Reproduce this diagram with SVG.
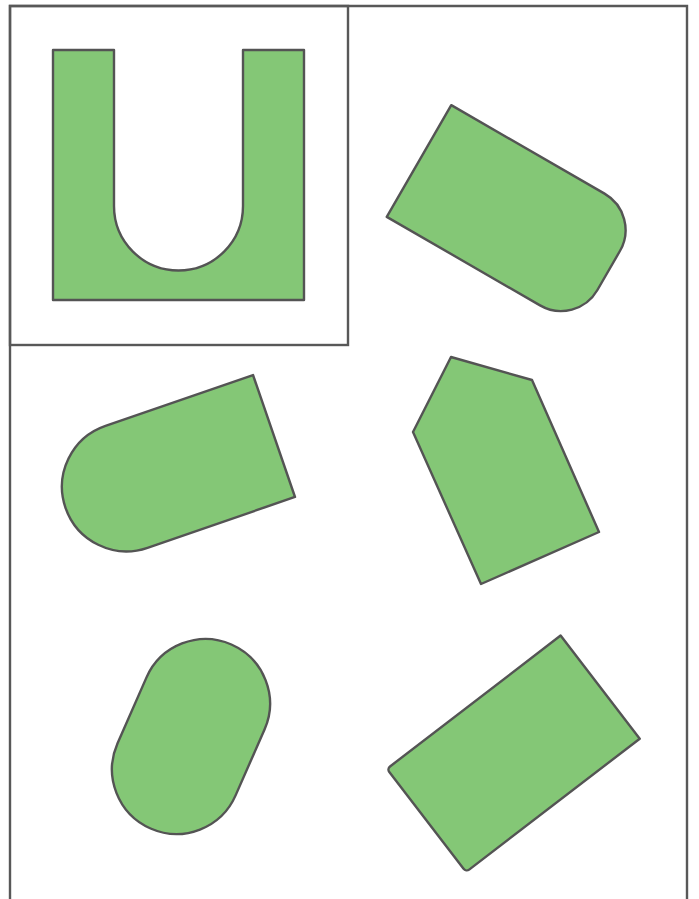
<svg xmlns="http://www.w3.org/2000/svg" width="699" height="899" viewBox="0 0 699 899">
<style>
.frame{fill:none;stroke:#585858;stroke-width:2.4}
.part{fill:#84c776;stroke:#545454;stroke-width:2.4;stroke-linejoin:round}
</style>
<rect width="699" height="899" fill="#ffffff"/>
<g id="frame">
<path class="frame" d="M10,899 V6 H687 V899"/>
<rect class="frame" x="10" y="6" width="338" height="339"/>
</g>
<g id="u-part"><path class="part" d="M53,50 H114 V206 A64.5,64.5 0 0 0 243,206 V50 H304 V300 H53 Z"/></g>
<g id="part-top-right"><path class="part" transform="translate(419,161) rotate(30)" d="M0,-64.5 H177 A42,42 0 0 1 219,-22.5 V22.5 A42,42 0 0 1 177,64.5 H0 Z"/></g>
<g id="part-mid-left"><path class="part" transform="translate(274,436) rotate(-19)" d="M0,-64.5 V64.5 H-156 A64.5,64.5 0 0 1 -156,-64.5 Z"/></g>
<g id="part-pentagon"><path class="part" d="M451,357 L532,380 L599,532 L481,584 L413,432 Z"/></g>
<g id="part-stadium"><rect class="part" transform="translate(191,736.5) rotate(23.7)" x="-64.5" y="-100.5" width="129" height="201" rx="64.5" ry="64.5"/></g>
<g id="part-rect"><path class="part" transform="translate(513.3,753.8) rotate(-37.5)" d="M109.5,-65 V65 H-105.5 A4,4 0 0 1 -109.5,61 V-61 A4,4 0 0 1 -105.5,-65 Z"/></g>
</svg>
